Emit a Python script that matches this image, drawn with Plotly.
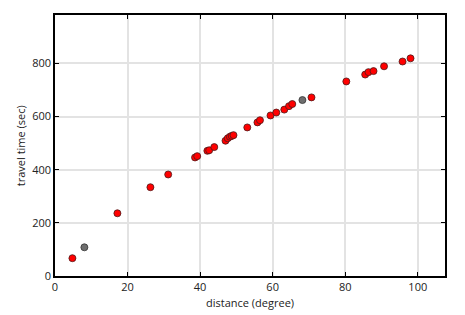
import plotly.graph_objects as go

# red points (distance in degrees, travel time in seconds)
red_dist = [4.8, 17.2, 26.3, 31.2, 38.6, 39.2, 42.0, 42.5, 43.9, 47.0, 47.6, 48.2, 48.7, 49.2,
            53.0, 55.8, 56.5, 59.4, 61.0, 63.2, 64.5, 65.4, 70.7, 80.3, 85.5, 86.4, 87.8,
            90.7, 95.8, 98.0]
red_time = [67, 236, 334, 382, 446, 451, 471, 473, 485, 509, 518, 524, 527, 530,
            559, 578, 586, 604, 615, 626, 639, 647, 672, 732, 758, 767, 771,
            789, 807, 819]
# gray points
gray_dist = [8.1, 68.2]
gray_time = [108, 662]

x_ticks = [0, 20, 40, 60, 80, 100]
y_ticks = [0, 200, 400, 600, 800]

FONT = "Open Sans"
TXT = "#222222"

fig = go.Figure()
fig.add_trace(go.Scatter(x=gray_dist, y=gray_time, mode="markers",
                         marker=dict(color="#6e6e6e", size=7, line=dict(color="#333333", width=0.8)),
                         showlegend=False))
fig.add_trace(go.Scatter(x=red_dist, y=red_time, mode="markers",
                         marker=dict(color="#ff0000", size=7, line=dict(color="#4a1a1a", width=0.8)),
                         showlegend=False))

axis_common = dict(showline=True, linecolor="black", linewidth=1.5, mirror="ticks",
                   ticks="inside", ticklen=4, tickcolor="black", tickwidth=1,
                   showgrid=True, gridcolor="#e3e3e3", gridwidth=1.5, zeroline=False,
                   automargin=False,
                   tickfont=dict(family=FONT, size=11, color=TXT))

fig.update_xaxes(range=[0, 107.5], tickvals=x_ticks, **axis_common)
fig.update_yaxes(range=[0, 982], tickvals=y_ticks, **axis_common)

fig.add_annotation(text="distance (degree)", xref="paper", yref="paper", x=0.5, y=-0.1,
                   yanchor="middle", showarrow=False, font=dict(family=FONT, size=11, color=TXT))
fig.add_annotation(text="travel time (sec)", xref="paper", yref="paper", x=-0.088, y=0.5,
                   xanchor="center", yanchor="middle", textangle=-90, showarrow=False,
                   font=dict(family=FONT, size=11, color=TXT))

fig.update_layout(width=465, height=315, margin=dict(l=55, r=20, t=15, b=39),
                  paper_bgcolor="white", plot_bgcolor="white")

fig.write_html("out.html")
